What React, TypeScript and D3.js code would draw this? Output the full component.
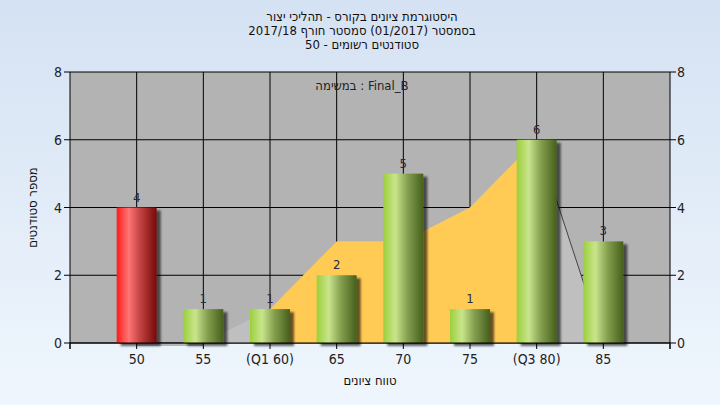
import * as d3 from 'd3';

// chart data
const categories = ['50', '55', '(Q1 60)', '65', '70', '75', '(Q3 80)', '85'];
const counts = [4, 1, 1, 2, 5, 1, 6, 3];
const areaValues = [0, 0, 1, 3, 3, 4, 6, 0];
const failIndex = [0]; // red bars
const q1Index = 2;
const q3Index = 6;
const yTicks = [0, 2, 4, 6, 8];

const titleLines = [
  'היסטוגרמת ציונים בקורס - תהליכי יצור',
  'בסמסטר  (01/2017)  סמסטר חורף 2017/18',
  'סטודנטים רשומים - 50',
];

const W = 720;
const H = 405;
const left = 70;
const right = 670;
const top = 72;
const bottom = 343;
const font = "'Liberation Sans Narrow', 'DejaVu Sans Condensed', 'Liberation Sans', sans-serif";

// force right-to-left embedding for the Hebrew title lines
const rtl = (s: string) => '\u202B' + s + '\u202C';

const App = () => {
  const x = d3.scaleLinear().domain([-1, categories.length]).range([left, right]);
  const y = d3.scaleLinear().domain([0, 8]).range([bottom, top]);
  const idx = d3.range(categories.length);
  const barW = 40;

  const area = d3.area<number>()
    .x(i => x(i))
    .y0(y(0))
    .y1(i => y(areaValues[i]));
  const line = d3.line<number>()
    .x(i => x(i))
    .y(i => y(areaValues[i]));

  const xTickPos = d3.range(-1, categories.length + 1);

  return (
    <svg width={W} height={H} style={{ position: 'absolute', left: 0, top: 0 }} fontFamily={font}>
      <defs>
        <linearGradient id="bg" x1="0" y1="0" x2="0" y2="1">
          <stop offset="0" stopColor="#d5e2f3" />
          <stop offset="1" stopColor="#eff6fd" />
        </linearGradient>
        <linearGradient id="red" x1="0" y1="0" x2="1" y2="0">
          <stop offset="0" stopColor="#ff1a1a" />
          <stop offset="0.3" stopColor="#ff7575" />
          <stop offset="0.6" stopColor="#c24040" />
          <stop offset="1" stopColor="#730a0a" />
        </linearGradient>
        <linearGradient id="green" x1="0" y1="0" x2="1" y2="0">
          <stop offset="0" stopColor="#9ccf3c" />
          <stop offset="0.3" stopColor="#c9e58c" />
          <stop offset="0.6" stopColor="#86a050" />
          <stop offset="1" stopColor="#455f1c" />
        </linearGradient>
        <filter id="shadow" x="-30%" y="-10%" width="160%" height="130%">
          <feDropShadow dx="4" dy="3" stdDeviation="1.3" floodColor="#000" floodOpacity="0.6" />
        </filter>
        <clipPath id="qclip">
          <rect x={x(q1Index)} y={top} width={x(q3Index) - x(q1Index)} height={bottom - top} />
        </clipPath>
      </defs>

      <rect width={W} height={H} fill="url(#bg)" />
      <rect x={left} y={top} width={right - left} height={bottom - top} fill="#b3b3b3" />

      {/* grid */}
      {yTicks.map(t => (
        <line key={'h' + t} x1={left} x2={right} y1={y(t)} y2={y(t)} stroke="#000" strokeWidth={1} />
      ))}
      {idx.map(i => (
        <line key={'v' + i} x1={x(i)} x2={x(i)} y1={top} y2={bottom} stroke="#000" strokeWidth={1} />
      ))}

      {/* distribution area */}
      <path d={area(idx) || ''} fill="#bfbfbf" />
      <path d={area(idx) || ''} fill="#ffcb55" clipPath="url(#qclip)" />
      <path d={line(idx.slice(0, 2)) || ''} fill="none" stroke="#777" strokeWidth={1} transform="translate(0,2)" />
      <path d={line(idx.slice(q3Index)) || ''} fill="none" stroke="#444" strokeWidth={1} />

      {/* bars */}
      {idx.map(i => (
        <rect
          key={'b' + i}
          x={x(i) - barW / 2}
          y={y(counts[i])}
          width={barW}
          height={y(0) - y(counts[i])}
          fill={failIndex.includes(i) ? 'url(#red)' : 'url(#green)'}
          filter="url(#shadow)"
        />
      ))}
      {idx.map(i => (
        <text key={'l' + i} x={x(i)} y={y(counts[i]) - 6} textAnchor="middle" fontSize={13} fill="#2a2a3a">
          {counts[i]}
        </text>
      ))}

      {/* axes */}
      <line x1={left} x2={left} y1={top} y2={bottom + 6} stroke="#000" />
      <line x1={right} x2={right} y1={top} y2={bottom + 6} stroke="#000" />
      <line x1={left} x2={right} y1={bottom} y2={bottom} stroke="#000" />
      {xTickPos.map(t => (
        <line key={'xt' + t} x1={x(t)} x2={x(t)} y1={bottom} y2={bottom + 6} stroke="#000" />
      ))}
      {yTicks.map(t => (
        <g key={'yt' + t}>
          <line x1={left - 6} x2={left} y1={y(t)} y2={y(t)} stroke="#000" />
          <line x1={right} x2={right + 6} y1={y(t)} y2={y(t)} stroke="#000" />
          <text x={left - 8} y={y(t) + 5} textAnchor="end" fontSize={14} fill="#222">{t}</text>
          <text x={right + 7} y={y(t) + 5} textAnchor="start" fontSize={14} fill="#222">{t}</text>
        </g>
      ))}
      {idx.map(i => (
        <text key={'xl' + i} x={x(i)} y={bottom + 21} textAnchor="middle" fontSize={14} fill="#222">
          {categories[i]}
        </text>
      ))}

      {/* titles */}
      {titleLines.map((t, i) => (
        <text key={'t' + i} x={362} y={21 + i * 14} textAnchor="middle" fontSize={13} fill="#111" direction="rtl">
          {rtl(t)}
        </text>
      ))}
      <text x={362} y={90} textAnchor="middle" fontSize={13} fill="#222">במשימה : Final_B</text>
      <text x={370} y={385} textAnchor="middle" fontSize={13} fill="#111">טווח ציונים</text>
      <text transform={`translate(37,${(top + bottom) / 2}) rotate(-90)`} textAnchor="middle" fontSize={13} fill="#111">
        מספר סטודנטים
      </text>
    </svg>
  );
};

export default App;
